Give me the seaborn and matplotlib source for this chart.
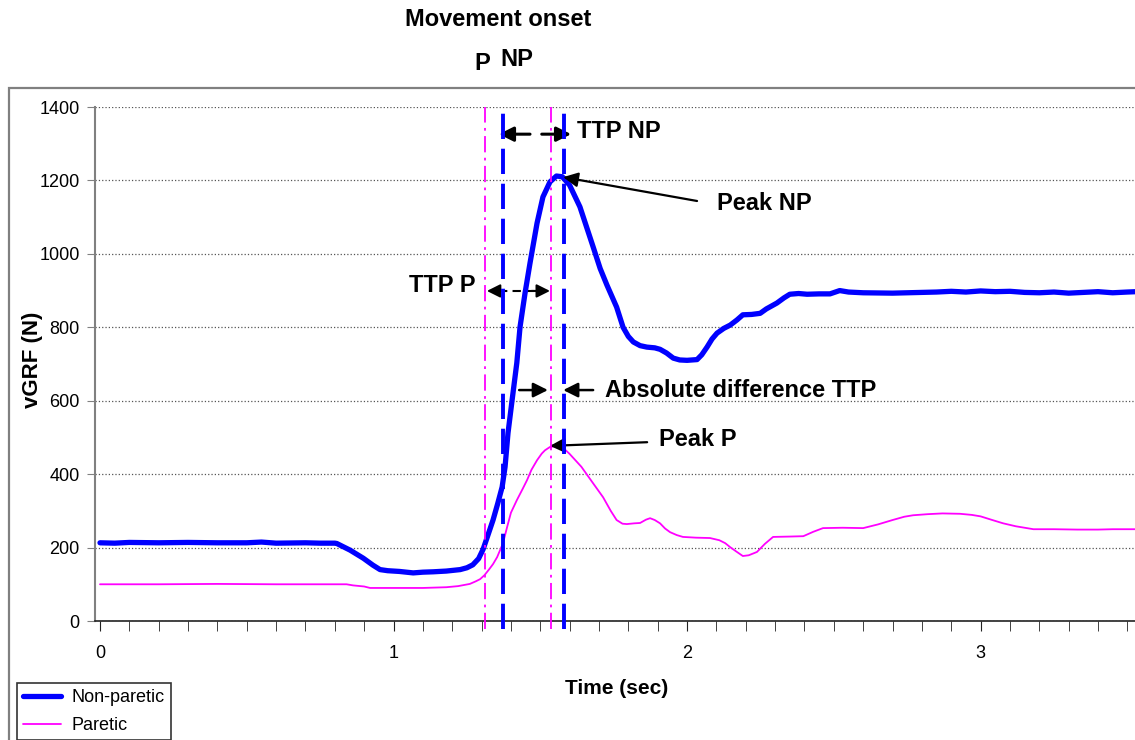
import numpy as np
import pandas as pd
import matplotlib
matplotlib.use("Agg")
import matplotlib.pyplot as plt
import seaborn as sns
from matplotlib.patches import Rectangle
from matplotlib.ticker import MultipleLocator

# Non-paretic limb vGRF
np_time = [0.0, 0.05, 0.1, 0.2, 0.3, 0.4, 0.5, 0.55, 0.6, 0.7, 0.75, 0.8, 0.807, 0.852, 0.897,
           0.93, 0.954, 0.98, 1.02, 1.067, 1.1, 1.135, 1.18, 1.227, 1.25, 1.27, 1.29, 1.305,
           1.32, 1.339, 1.355, 1.37, 1.38, 1.39, 1.404, 1.42, 1.431, 1.448, 1.465, 1.489, 1.509,
           1.533, 1.555, 1.575, 1.60, 1.635, 1.68, 1.704, 1.727, 1.76, 1.782, 1.80, 1.817, 1.84,
           1.863, 1.89, 1.908, 1.93, 1.953, 1.975, 2.0, 2.034, 2.05, 2.068, 2.085, 2.102, 2.125,
           2.147, 2.17, 2.19, 2.22, 2.249, 2.27, 2.306, 2.33, 2.35, 2.38, 2.409, 2.45, 2.487,
           2.52, 2.55, 2.6, 2.7, 2.8, 2.85, 2.9, 2.95, 3.0, 3.05, 3.1, 3.15, 3.2, 3.25, 3.3,
           3.35, 3.4, 3.45, 3.5, 3.53]
np_force = [213, 212, 214, 213, 214, 213, 213, 215, 212, 213, 212, 212, 211, 193, 171,
            152, 140, 137, 135, 131, 133, 134, 136, 140, 145, 153, 170, 195,
            230, 275, 320, 365, 420, 512, 602, 703, 801, 893, 975, 1084, 1155,
            1196, 1212, 1210, 1187, 1128, 1019, 960, 915, 855, 800, 775, 760, 750,
            746, 744, 740, 730, 716, 711, 710, 712, 725, 746, 768, 784, 797,
            806, 820, 834, 835, 838, 850, 866, 880, 890, 892, 890, 891, 891,
            900, 896, 894, 893, 895, 896, 898, 896, 899, 897, 898, 895, 894, 896, 893,
            895, 897, 894, 896, 897]

# Paretic limb vGRF
p_time = [0.0, 0.2, 0.4, 0.6, 0.8, 0.84, 0.862, 0.9, 0.92, 1.0, 1.1, 1.18, 1.22, 1.26, 1.28,
          1.295, 1.31, 1.325, 1.339, 1.353, 1.373, 1.387, 1.40, 1.42, 1.44, 1.455, 1.47, 1.489,
          1.505, 1.516, 1.533, 1.55, 1.567, 1.58, 1.6, 1.64, 1.68, 1.714, 1.74, 1.76, 1.78,
          1.795, 1.82, 1.84, 1.86, 1.874, 1.89, 1.908, 1.925, 1.942, 1.965, 1.986, 2.03, 2.078,
          2.11, 2.13, 2.147, 2.17, 2.19, 2.21, 2.238, 2.265, 2.293, 2.35, 2.396, 2.43, 2.463,
          2.53, 2.6, 2.65, 2.7, 2.74, 2.77, 2.82, 2.87, 2.93, 2.97, 3.0, 3.04, 3.077, 3.12,
          3.18, 3.25, 3.33, 3.4, 3.45, 3.53]
p_force = [100, 100, 101, 100, 100, 100, 97, 94, 90, 90, 90, 92, 95, 101, 108,
           114, 125, 140, 155, 174, 212, 256, 295, 329, 360, 384, 412, 438,
           456, 465, 474, 476, 474, 470, 455, 420, 375, 337, 300, 275, 265,
           264, 266, 267, 276, 280, 275, 266, 252, 242, 234, 229, 227, 226,
           220, 212, 201, 188, 177, 179, 188, 210, 229, 230, 231, 243, 253,
           254, 253, 263, 275, 284, 288, 291, 293, 292, 289, 285, 275, 266, 258,
           250, 250, 249, 249, 250, 250]

# Event markers (sec)
onset_p, onset_np = 1.312, 1.373
peak_p_time, peak_np_time = 1.537, 1.581

df_np = pd.DataFrame({'Time': np_time, 'vGRF': np_force})
df_p = pd.DataFrame({'Time': p_time, 'vGRF': p_force})

sns.set_style("white")
plt.rcParams['font.family'] = ['Liberation Sans', 'DejaVu Sans']
plt.rcParams.update({'text.color': 'black', 'axes.labelcolor': 'black',
                     'xtick.color': 'black', 'ytick.color': 'black'})

fig = plt.figure(figsize=(11.35, 7.4), dpi=100)
ax = fig.add_axes([95 / 1135, 1 - 621 / 740, 1040 / 1135, 514 / 740])

sns.lineplot(data=df_np, x='Time', y='vGRF', ax=ax, color='#0000FF', lw=3.8,
             sort=False, estimator=None, label='Non-paretic', zorder=3)
sns.lineplot(data=df_p, x='Time', y='vGRF', ax=ax, color='#FF00FF', lw=1.3,
             sort=False, estimator=None, label='Paretic', zorder=3)

# onset / peak markers
for xv in (onset_p, peak_p_time):
    ax.axvline(xv, ymin=-0.015, color='#FF00FF', lw=1.3, ls=(0, (9, 3, 1.5, 3)),
               clip_on=False, zorder=4)
for xv in (onset_np, peak_np_time):
    ax.axvline(xv, ymin=-0.015, color='#0000FF', lw=2.8, ls=(0, (6.5, 2.5)),
               clip_on=False, zorder=4)

ax.set_xlim(-0.017, 3.526)
ax.set_ylim(0, 1400)
ax.yaxis.set_major_locator(MultipleLocator(200))
ax.xaxis.set_major_locator(MultipleLocator(1))
ax.xaxis.set_minor_locator(MultipleLocator(0.1))
ax.grid(axis='y', ls=':', color='#555555', lw=0.9)
ax.set_axisbelow(True)

for s in ('top', 'right'):
    ax.spines[s].set_visible(False)
ax.spines['left'].set_color('#808080')
ax.spines['left'].set_linewidth(1.5)
ax.spines['bottom'].set_color('#222222')
ax.spines['bottom'].set_linewidth(1.2)

ax.tick_params(axis='y', which='major', direction='out', length=6, color='#808080',
               labelsize=13, pad=5, left=True)
ax.tick_params(axis='x', which='both', direction='out', length=7, color='#222222',
               labelsize=13, pad=10, bottom=True)

ax.set_xlabel('Time (sec)', fontsize=15, fontweight='bold')
ax.set_ylabel('vGRF (N)', fontsize=16, fontweight='bold')
ax.xaxis.set_label_coords(0.502, -0.112)
ax.yaxis.set_label_coords(-0.05, 0.508)

arrow_kw = dict(arrowstyle='-|>', color='black', lw=2.2, mutation_scale=22,
                shrinkA=0, shrinkB=0)
bold = dict(fontsize=17, fontweight='bold', va='center')

# TTP NP
ax.annotate('', xy=(1.359, 1326), xytext=(1.465, 1326), arrowprops=arrow_kw)
ax.annotate('', xy=(1.605, 1326), xytext=(1.505, 1326), arrowprops=arrow_kw)
ax.text(1.625, 1332, 'TTP NP', ha='left', **bold)

# Peak NP
ax.annotate('', xy=(1.578, 1209), xytext=(2.034, 1144),
            arrowprops=dict(arrow_kw, lw=1.6))
ax.text(2.102, 1138, 'Peak NP', ha='left', **bold)

# TTP P
ax.plot([1.36, 1.49], [899, 899], color='black', lw=1.5, ls=(0, (4, 2.5)))
thin_kw = dict(arrow_kw, lw=1.5, mutation_scale=20)
ax.annotate('', xy=(1.318, 899), xytext=(1.38, 899), arrowprops=thin_kw)
ax.annotate('', xy=(1.533, 899), xytext=(1.47, 899), arrowprops=thin_kw)
ax.text(1.278, 915, 'TTP P', ha='right', **bold)

# Absolute difference TTP
ax.annotate('', xy=(1.526, 629), xytext=(1.428, 629), arrowprops=dict(arrow_kw, lw=1.8))
ax.annotate('', xy=(1.578, 629), xytext=(1.68, 629), arrowprops=dict(arrow_kw, lw=1.8))
ax.text(1.721, 629, 'Absolute difference TTP', ha='left', **bold)

# Peak P
ax.annotate('', xy=(1.533, 477), xytext=(1.864, 487), arrowprops=dict(arrow_kw, lw=1.6))
ax.text(1.905, 493, 'Peak P', ha='left', **bold)

# header text above the chart
fig.text(498 / 1135, 1 - 20 / 740, 'Movement onset', ha='center', va='center',
         fontsize=17, fontweight='bold')
fig.text(482 / 1135, 1 - 64 / 740, 'P', ha='center', va='center', fontsize=17, fontweight='bold')
fig.text(517 / 1135, 1 - 60 / 740, 'NP', ha='center', va='center', fontsize=17, fontweight='bold')

# chart-area border
fig.add_artist(Rectangle((9 / 1135, -0.2), 1.2, 0.2 + 1 - 88 / 740, transform=fig.transFigure,
                         fill=False, edgecolor='#808080', lw=1.6))

handles, labels = ax.get_legend_handles_labels()
ax.legend_.remove()
leg = fig.legend(handles, labels, loc='upper left', bbox_to_anchor=(17 / 1135, 1 - 683 / 740),
                 bbox_transform=fig.transFigure, fontsize=13, frameon=True, fancybox=False,
                 edgecolor='black', handlelength=2.1, borderpad=0.35, labelspacing=0.6,
                 handletextpad=0.55, borderaxespad=0)
leg.get_frame().set_linewidth(1.2)

fig.savefig('out.png', dpi=100)
